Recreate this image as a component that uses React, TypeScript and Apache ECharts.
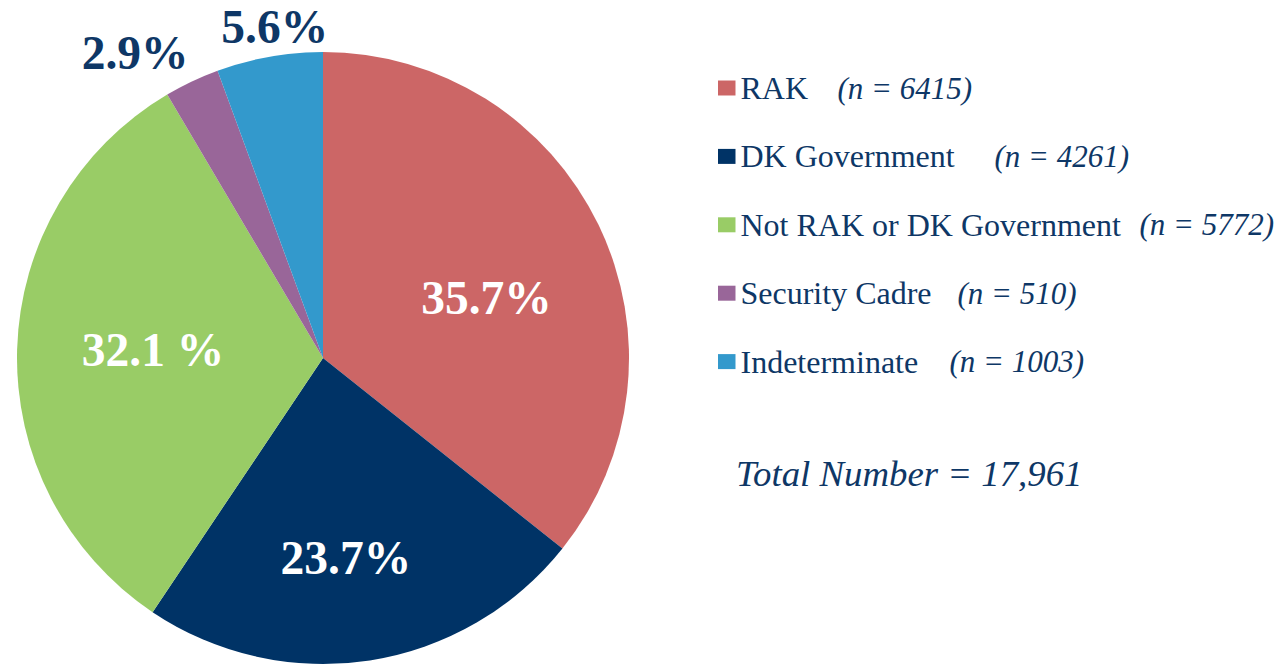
import React, { useEffect, useRef } from "react";
import * as echarts from "echarts";

const CATEGORIES = ["RAK", "DK Government", "Not RAK or DK Government", "Security Cadre", "Indeterminate"];
const PERCENTS = [35.7, 23.7, 32.1, 2.9, 5.6];
const PERCENT_LABELS = ["35.7%", "23.7%", "32.1 %", "2.9%", "5.6%"];
const COUNTS = ["6415", "4261", "5772", "510", "1003"];
const TOTAL_LABEL = "Total Number = 17,961";

const COLORS = ["#CC6666", "#003366", "#99CC66", "#996699", "#3399CC"];
const NAVY = "#0E3766";
const SERIF = "Liberation Serif";
// label style: colour and offset from the default inside position
const LABEL_COLORS = ["#ffffff", "#ffffff", "#ffffff", NAVY, NAVY];
const LABEL_OFFSETS = [
  [23, 8],
  [-1, 46],
  [-14, -4],
  [-121, -164],
  [-21, -177],
];
// widths of the legend name column, so the (n = …) part starts where it does in the original
const NAME_WIDTHS = [97, 254, 399, 217, 209];

export default function App() {
  const ref = useRef<HTMLDivElement>(null);

  useEffect(() => {
    if (!ref.current) return;
    const chart = echarts.init(ref.current, undefined, { renderer: "svg" });

    const rich: Record<string, any> = {
      n: {
        fontFamily: SERIF,
        fontSize: 31,
        fontStyle: "italic",
        color: NAVY,
        lineHeight: 32,
        height: 32,
      },
    };
    NAME_WIDTHS.forEach((w, i) => {
      rich["nm" + i] = {
        fontFamily: SERIF,
        fontSize: 32,
        fontStyle: "normal",
        color: NAVY,
        width: w,
        lineHeight: 32,
        height: 32,
      };
    });
    const legendText = { fontFamily: SERIF, fontSize: 32, color: NAVY, lineHeight: 32, rich };

    chart.setOption({
      animation: false,
      backgroundColor: "#ffffff",
      textStyle: { fontFamily: SERIF },
      legend: {
        orient: "vertical",
        left: 718,
        top: 72,
        padding: 0,
        icon: "rect",
        itemWidth: 17.5,
        itemHeight: 15,
        itemGap: 36.4,
        selectedMode: false,
        data: CATEGORIES.map((name) => ({ name, textStyle: legendText })),
        textStyle: legendText,
        formatter: (name: string) => {
          const i = CATEGORIES.indexOf(name);
          return `{nm${i}|${name}}{n|(n = ${COUNTS[i]})}`;
        },
      },
      graphic: [
        {
          type: "text",
          left: 736,
          top: 455,
          style: {
            text: TOTAL_LABEL,
            fontFamily: SERIF,
            fontSize: 36.8,
            fontStyle: "italic",
            fill: NAVY,
          },
        },
      ],
      series: [
        {
          type: "pie",
          center: [323, 358],
          radius: [0, 306],
          startAngle: 90,
          clockwise: true,
          avoidLabelOverlap: false,
          emphasis: { disabled: true },
          itemStyle: { borderWidth: 0 },
          label: {
            show: true,
            position: "inside",
            fontFamily: SERIF,
            fontSize: 47.5,
            fontWeight: "bold",
          },
          labelLine: { show: false },
          labelLayout: (p: any) => ({
            dx: LABEL_OFFSETS[p.dataIndex][0],
            dy: LABEL_OFFSETS[p.dataIndex][1],
          }),
          data: CATEGORIES.map((name, i) => ({
            name,
            value: PERCENTS[i],
            itemStyle: { color: COLORS[i] },
            label: { formatter: PERCENT_LABELS[i], color: LABEL_COLORS[i] },
          })),
        },
      ],
    });

    return () => chart.dispose();
  }, []);

  return (
    <div
      ref={ref}
      style={{ position: "fixed", left: 0, top: 0, width: 1280, height: 665 }}
    />
  );
}
